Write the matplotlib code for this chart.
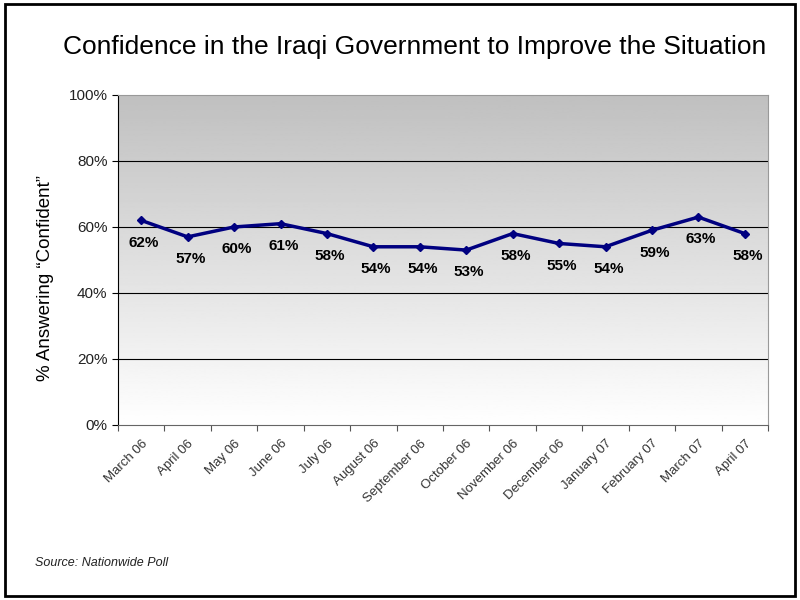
import numpy as np
import matplotlib.pyplot as plt
from matplotlib.patches import Rectangle

months = ["March 06", "April 06", "May 06", "June 06", "July 06", "August 06",
          "September 06", "October 06", "November 06", "December 06",
          "January 07", "February 07", "March 07", "April 07"]
confident = [62, 57, 60, 61, 58, 54, 54, 53, 58, 55, 54, 59, 63, 58]
y_ticks = [0, 20, 40, 60, 80, 100]

plt.rcParams["font.family"] = ["Liberation Sans", "DejaVu Sans"]

fig = plt.figure(figsize=(8, 6), dpi=100)
ax = fig.add_axes([0.1475, 0.2917, 0.8125, 0.55])

n = len(months)
x = np.arange(n)
ax.set_xlim(-0.5, n - 0.5)
ax.set_ylim(0, 100)

# gray (top) to white (bottom) gradient background
grad = np.linspace(0.75, 1.0, 256).reshape(-1, 1)
ax.imshow(grad, cmap="gray", vmin=0, vmax=1, aspect="auto", origin="upper",
          extent=(-0.5, n - 0.5, 0, 100), zorder=0)

for yv in y_ticks[1:-1]:
    ax.axhline(yv, color="black", lw=0.8, zorder=1)

ax.plot(x, confident, color="#000080", lw=2.5, marker="D", ms=4, zorder=3)
for xi, v in zip(x, confident):
    ax.annotate(f"{v}%", (xi, v), xytext=(2, -16), textcoords="offset points",
                ha="center", va="center", fontsize=11, fontweight="bold", zorder=4)

ax.set_yticks(y_ticks)
ax.set_yticklabels([f"{v}%" for v in y_ticks], fontsize=11, color="#222222")
ax.set_xticks(np.arange(n + 1) - 0.5, minor=False)
ax.set_xticklabels([])
ax.set_xticks(x, minor=True)
ax.set_xticklabels(months, minor=True, rotation=45, ha="right",
                   rotation_mode="anchor", fontsize=9.5, color="#333333")
ax.tick_params(axis="x", which="minor", length=0, pad=9)
ax.tick_params(axis="x", which="major", length=4, color="#555555")
ax.tick_params(axis="y", length=4)

ax.spines["left"].set_color("black")
ax.spines["bottom"].set_color("#666666")
ax.spines["top"].set_color("#999999")
ax.spines["right"].set_color("#999999")

fig.text(0.057, 0.537, "% Answering \u201cConfident\u201d", rotation=90,
         ha="center", va="center", fontsize=13.5)
fig.text(0.518, 0.921, "Confidence in the Iraqi Government to Improve the Situation",
         ha="center", va="center", fontsize=19)
fig.text(0.044, 0.062, "Source: Nationwide Poll", fontsize=9, style="italic",
         color="#222222", va="center")

fig.patches.append(Rectangle((0.006, 0.006), 0.988, 0.988, transform=fig.transFigure,
                             fill=False, edgecolor="black", lw=2))

fig.savefig("out.png", dpi=100)
